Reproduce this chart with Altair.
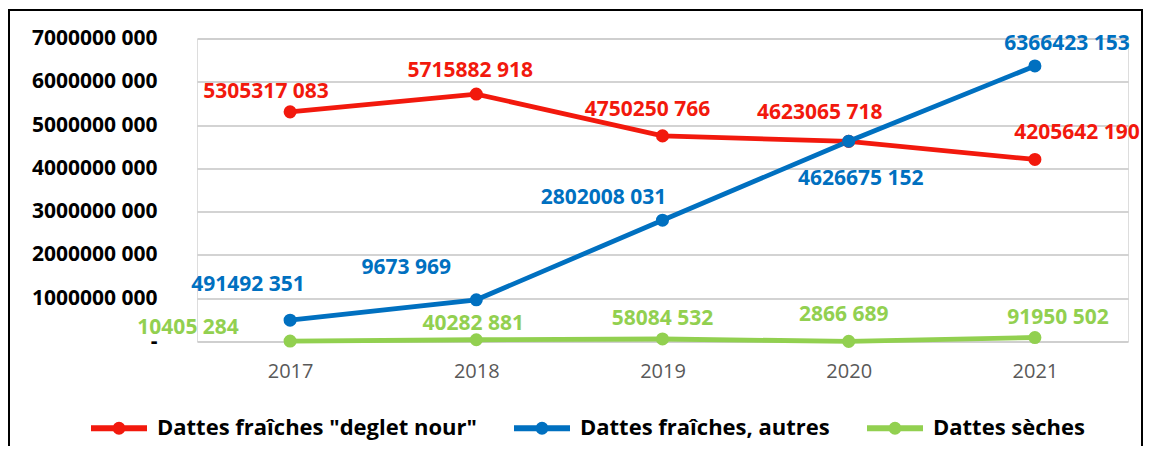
import altair as alt
import pandas as pd

years = ["2017", "2018", "2019", "2020", "2021"]
series_names = ['Dattes fraîches "deglet nour"', "Dattes fraîches, autres", "Dattes sèches"]
colors = ["#F2190D", "#0070C0", "#92D050"]

deglet_values = [5305317083, 5715882918, 4750250766, 4623065718, 4205642190]
autres_values = [491492351, 963000000, 2802008031, 4626675152, 6366423153]
seches_values = [10405284, 40282881, 58084532, 2866689, 91950502]

deglet_labels = ["5305317 083", "5715882 918", "4750250 766", "4623065 718", "4205642 190"]
autres_labels = ["491492 351", "9673 969", "2802008 031", "4626675 152", "6366423 153"]
seches_labels = ["10405 284", "40282 881", "58084 532", "2866 689", "91950 502"]

y_ticks = [0, 1e9, 2e9, 3e9, 4e9, 5e9, 6e9, 7e9]

rows = []
for name, vals, labs in [
    (series_names[0], deglet_values, deglet_labels),
    (series_names[1], autres_values, autres_labels),
    (series_names[2], seches_values, seches_labels),
]:
    for yr, v, lab in zip(years, vals, labs):
        rows.append({"series": name, "year": yr, "value": v, "label": lab})
df = pd.DataFrame(rows)

# label placement (pixel offsets from each point), styling only
label_offsets = {
    series_names[0]: [(-24, -20), (-6, -23), (-15, -26), (-29, -28), (42, -26)],
    series_names[1]: [(-42, -35), (-70, -32), (-59, -22), (12, 38), (32, -22)],
    series_names[2]: [(-102, -13), (-3, -16), (0, -20), (-5, -26), (23, -20)],
}

W, H = 931, 303
FONT = "Open Sans"

color_scale = alt.Scale(domain=series_names, range=colors)
x_enc = alt.X(
    "year:O",
    scale=alt.Scale(type="point", padding=0.5),
    sort=years,
    title=None,
    axis=alt.Axis(
        labelAngle=0, labelFontSize=20, labelColor="#595959", labelFont=FONT,
        ticks=False, domain=False, grid=False, labelPadding=20,
    ),
)
y_enc = alt.Y(
    "value:Q",
    scale=alt.Scale(domain=[0, 7e9], nice=False),
    title=None,
    axis=alt.Axis(
        values=y_ticks,
        labelExpr="datum.value == 0 ? '-\u00a0\u00a0' : format(floor(datum.value/1000), 'd') + ' ' + slice(format(datum.value % 1000 + 1000, 'd'), 1)",
        labelFont=FONT, labelFontWeight="bold", labelFontSize=21, labelColor="black",
        labelPadding=40, ticks=False, domain=False, grid=True,
        gridColor="#c4c4c4", gridWidth=1.5,
    ),
)

base = alt.Chart(df)

# legend symbol: a stroked line with a small stroked circle in the middle
symbol_path = ("M-1,0 L1,0 "
               "M0.125,0 A0.125,0.125 0 1,1 -0.125,0 A0.125,0.125 0 1,1 0.125,0")

lines = base.mark_line(strokeWidth=4.8).encode(
    x=x_enc, y=y_enc,
    color=alt.Color("series:N", scale=color_scale, title=None,
                    legend=alt.Legend(
                        orient="none", legendX=-109, legendY=358.5, direction="horizontal",
                        symbolType=symbol_path, symbolSize=3136, symbolStrokeWidth=6,
                        labelFont=FONT, labelFontWeight="bold", labelFontSize=22,
                        labelColor="black", labelLimit=1000, labelOffset=7,
                        columnPadding=25, padding=0,
                    )),
    detail="series:N",
)

points = base.mark_point(filled=True, size=170, opacity=1).encode(
    x=x_enc, y=y_enc,
    color=alt.Color("series:N", scale=color_scale, title=None),
)

layers = [lines, points]
for s_i, s in enumerate(series_names):
    for y_i, yr in enumerate(years):
        dx, dy = label_offsets[s][y_i]
        layers.append(
            base.transform_filter(
                (alt.datum.series == s) & (alt.datum.year == yr)
            ).mark_text(
                dx=dx, dy=dy, font=FONT, fontWeight="bold", fontSize=21,
                color=colors[s_i], align="center", baseline="middle",
            ).encode(x=x_enc, y=y_enc, text="label:N")
        )

frame = alt.Chart(pd.DataFrame({"f": [0]})).mark_rect(
    filled=False, stroke="black", strokeWidth=2
).encode(
    x=alt.value(-188), x2=alt.value(945), y=alt.value(-28.5), y2=alt.value(460)
)
layers.append(frame)

chart = alt.layer(*layers).properties(
    width=W, height=H,
    autosize=alt.AutoSizeParams(type="none"),
    padding={"left": 189, "top": 30.5, "right": 16, "bottom": 104},
).configure_view(strokeWidth=0).configure(font=FONT)

chart.save("out.html", embed_options={"renderer": "svg", "actions": False})
